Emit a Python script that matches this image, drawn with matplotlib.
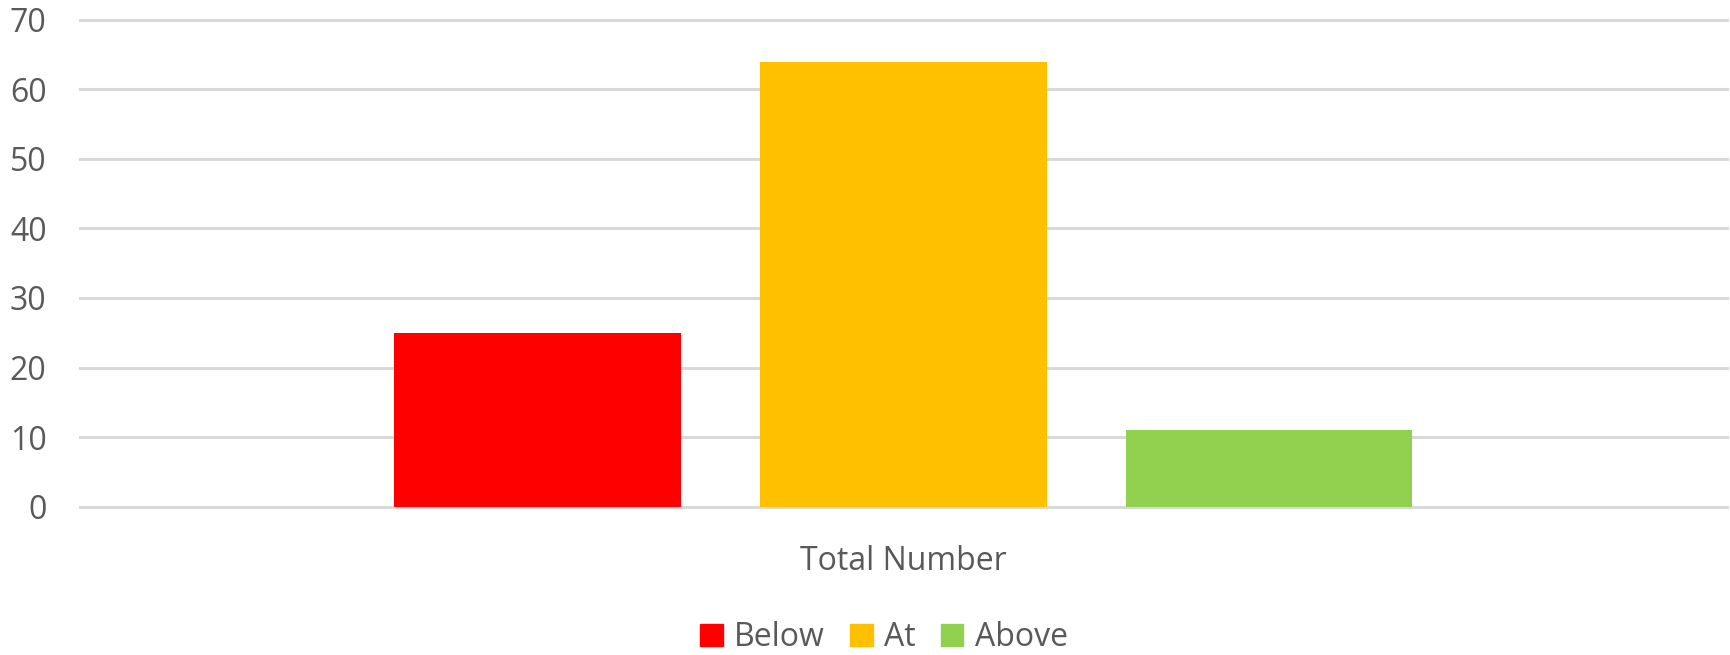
import matplotlib.pyplot as plt
from matplotlib.patches import Patch

category = "Total Number"
levels = ["Below", "At", "Above"]
counts = [25, 64, 11]
colours = ["#ff0000", "#ffc000", "#92d050"]
yticks = [0, 10, 20, 30, 40, 50, 60, 70]

plt.rcParams['font.family'] = ['Open Sans', 'DejaVu Sans']
text_grey = "#595959"
grid_grey = "#d9d9d9"

fig = plt.figure(figsize=(17.3, 6.55), dpi=100)
ax = fig.add_axes([0.0462, 0.2267, 0.952, 0.7428])

width = 0.174
step = 0.222
for i in range(len(levels)):
    ax.bar((i - 1) * step, counts[i], width=width, color=colours[i],
           zorder=3, label=levels[i])

ax.set_xlim(-0.5, 0.5)
ax.set_ylim(0, 70)
ax.set_yticks(yticks)
ax.set_xticks([0])
ax.set_xticklabels([category])
ax.tick_params(axis='both', length=0, colors=text_grey, labelsize=23)
ax.tick_params(axis='y', pad=24)
ax.tick_params(axis='x', pad=28)
ax.grid(axis='y', color=grid_grey, linewidth=2.2, zorder=0)
for gl in ax.get_ygridlines():
    gl.set_clip_on(False)
ax.set_axisbelow(True)
for s in ax.spines.values():
    s.set_visible(False)

handles = [Patch(color=c) for c in colours]
fig.legend(handles, levels, loc='center', bbox_to_anchor=(0.511, 0.026),
           ncol=3, frameon=False, fontsize=23, labelcolor=text_grey,
           handlelength=0.7, handleheight=0.7, handletextpad=0.35,
           columnspacing=0.8)

plt.savefig("out.png", dpi=100)
